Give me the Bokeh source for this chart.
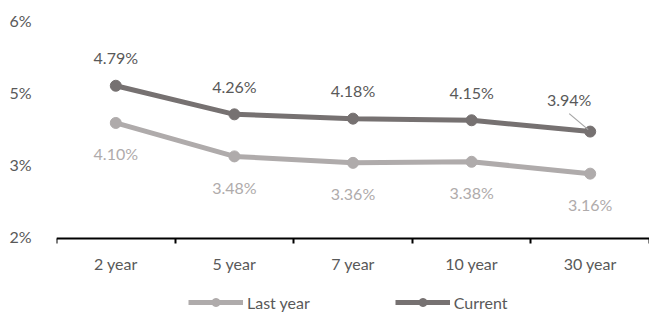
from bokeh.plotting import figure
from bokeh.models import (Range1d, FixedTicker, Legend, LegendItem, ColumnDataSource)
from bokeh.core.properties import value
from bokeh.embed import file_html
from bokeh.resources import INLINE

categories = ["2 year", "5 year", "7 year", "10 year", "30 year"]
last_year = [4.10, 3.48, 3.36, 3.38, 3.16]
current = [4.79, 4.26, 4.18, 4.15, 3.94]
y_tick_values = [2.0, 10 / 3, 14 / 3, 6.0]
y_tick_labels = ["2%", "3%", "5%", "6%"]

FONT = "Lato"
FS = "16px"
C_CUR = "#767171"
C_LAST = "#AFABAB"
C_TXT = "#595959"

x_pos = [i + 0.5 for i in range(len(categories))]
Y0, Y1 = 0.548, 6.0
AXIS_Y = 1.955
FW, FH = 593, 294

p = figure(frame_width=FW, frame_height=FH, output_backend="svg", toolbar_location=None,
           x_range=Range1d(0, len(categories)), y_range=Range1d(Y0, Y1),
           min_border_left=56, min_border_right=0, min_border_top=20, min_border_bottom=0)
p.outline_line_color = None
p.background_fill_color = "white"
p.border_fill_color = "white"
p.xgrid.visible = False
p.ygrid.visible = False

# y axis
p.yaxis.ticker = FixedTicker(ticks=y_tick_values)
p.yaxis.major_label_overrides = {v: l for v, l in zip(y_tick_values, y_tick_labels)}
p.yaxis.axis_line_color = None
p.yaxis.major_tick_line_color = None
p.yaxis.minor_tick_line_color = None
p.yaxis.major_label_standoff = 19
p.yaxis.major_label_text_font = FONT
p.yaxis.major_label_text_font_size = FS
p.yaxis.major_label_text_color = C_TXT

# x axis
p.xaxis.fixed_location = AXIS_Y
p.xaxis.ticker = FixedTicker(ticks=x_pos, minor_ticks=list(range(len(categories) + 1)))
p.xaxis.major_label_overrides = {x: c for x, c in zip(x_pos, categories)}
p.xaxis.axis_line_color = "black"
p.xaxis.axis_line_width = 2
p.xaxis.major_tick_line_color = None
p.xaxis.minor_tick_line_color = "black"
p.xaxis.minor_tick_line_width = 2
p.xaxis.minor_tick_out = 5
p.xaxis.minor_tick_in = 0
p.xaxis.major_label_standoff = 9
p.xaxis.major_label_text_font = FONT
p.xaxis.major_label_text_font_size = FS
p.xaxis.major_label_text_color = C_TXT

src = ColumnDataSource(dict(
    x=x_pos, last=last_year, cur=current,
    last_lbl=[f"{v:.2f}%" for v in last_year],
))

l1 = p.line("x", "last", source=src, line_color=C_LAST, line_width=5)
s1 = p.scatter("x", "last", source=src, size=11, fill_color=C_LAST, line_color=C_LAST)
l2 = p.line("x", "cur", source=src, line_color=C_CUR, line_width=5)
s2 = p.scatter("x", "cur", source=src, size=11, fill_color=C_CUR, line_color=C_CUR)

n = len(categories)
src_cur_main = ColumnDataSource(dict(x=x_pos[:n - 1], y=current[:n - 1],
                                     t=[f"{v:.2f}%" for v in current[:n - 1]]))
src_cur_last = ColumnDataSource(dict(x=x_pos[n - 1:], y=current[n - 1:],
                                     t=[f"{v:.2f}%" for v in current[n - 1:]]))

p.text("x", "last", text="last_lbl", source=src, y_offset=31, text_align="center",
       text_baseline="middle", text_font=value(FONT), text_font_size=FS, text_color=C_LAST)
p.text("x", "y", text="t", source=src_cur_main, y_offset=-28, text_align="center",
       text_baseline="middle", text_font=value(FONT), text_font_size=FS, text_color=C_TXT)
p.text("x", "y", text="t", source=src_cur_last, x_offset=-21, y_offset=-32, text_align="center",
       text_baseline="middle", text_font=value(FONT), text_font_size=FS, text_color=C_TXT)

# leader line for the shifted label
px_x = FW / n
px_y = FH / (Y1 - Y0)
lx, ly = x_pos[n - 1], current[n - 1]
p.segment(x0=[lx - 21 / px_x], y0=[ly + 18 / px_y], x1=[lx - 2 / px_x], y1=[ly + 2 / px_y],
          line_color="#A6A6A6", line_width=1.2)

legend = Legend(items=[LegendItem(label="Last year", renderers=[l1, s1]),
                       LegendItem(label="Current", renderers=[l2, s2])],
                orientation="horizontal", location=(132, 2),
                glyph_width=55, glyph_height=20, label_standoff=4, spacing=85,
                padding=0, margin=0, border_line_color=None, background_fill_alpha=0,
                label_text_font=FONT, label_text_font_size=FS, label_text_color=C_TXT)
p.add_layout(legend, "center")

open("out.html", "w").write(file_html(p, INLINE))
